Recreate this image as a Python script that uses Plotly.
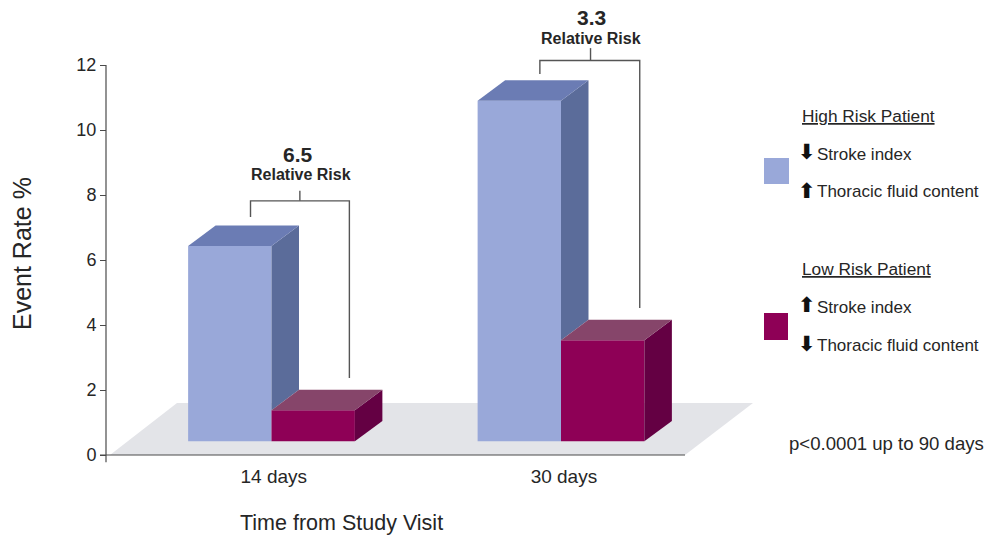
import plotly.graph_objects as go

WIDTH, HEIGHT = 988, 535
FONT = "Liberation Sans"

# Chart values
groups = ["14 days", "30 days"]
group_pos = [0, 1]
group_label_pos = [0.008, 1.01]
high_risk = [6.43, 10.9]
low_risk = [1.38, 3.53]
y_ticks = [0, 2, 4, 6, 8, 10, 12]
relative_risk = ["6.5", "3.3"]

# Bracket geometry, in axis units
bracket_left_x = [-0.0725, 0.927]
bracket_mid_x = [0.098, 1.102]
bracket_right_x = [0.269, 1.272]
bracket_left_y = [7.32, 11.72]
bracket_top_y = [7.82, 12.14]
bracket_stem_y = [8.13, 12.52]
bracket_right_y = [2.37, 4.52]

# Pseudo-3D box proportions
floor_level = 0.42
bar_width = 0.288
depth_x = 0.095
depth_y = 0.63

# Pixel scale of the axes: the plot area fills the page
X0_PX, X_UNIT_PX = 271.5, 289.5
Y0_PX, Y_UNIT_PX = 455.0, 32.5


def data_x(px):
    return (px - X0_PX) / X_UNIT_PX


def paper_x(px):
    return px / WIDTH


def paper_y(py):
    return 1 - py / HEIGHT


C_HIGH_FRONT, C_HIGH_TOP, C_HIGH_SIDE = "#99A8D9", "#6B7CB4", "#5B6C9A"
C_LOW_FRONT, C_LOW_TOP, C_LOW_SIDE = "#8E0056", "#86456A", "#640043"
C_FLOOR = "#E3E4E8"
C_AXIS = "#4A4A4A"
C_TEXT = "#262626"

fig = go.Figure()


def face(xs, ys, color):
    fig.add_trace(go.Scatter(
        x=xs + xs[:1], y=ys + ys[:1], mode="lines", fill="toself",
        fillcolor=color, line=dict(width=0), hoverinfo="skip", showlegend=False,
    ))


# Front faces
fig.add_trace(go.Bar(
    x=[g - bar_width / 2 for g in group_pos], y=[v - floor_level for v in high_risk],
    base=floor_level, width=bar_width, marker=dict(color=C_HIGH_FRONT, line=dict(width=0)),
    name="High Risk Patient", showlegend=False,
))
fig.add_trace(go.Bar(
    x=[g + bar_width / 2 for g in group_pos], y=[v - floor_level for v in low_risk],
    base=floor_level, width=bar_width, marker=dict(color=C_LOW_FRONT, line=dict(width=0)),
    name="Low Risk Patient", showlegend=False,
))

# Side and top faces
for g, hi, lo in zip(group_pos, high_risk, low_risk):
    mid = g
    right = g + bar_width
    left = g - bar_width
    # High-risk side stops where the low-risk box starts
    face([mid, mid + depth_x, mid + depth_x, mid],
         [hi, hi + depth_y, lo + depth_y, lo], C_HIGH_SIDE)
    face([left, mid, mid + depth_x, left + depth_x],
         [hi, hi, hi + depth_y, hi + depth_y], C_HIGH_TOP)
    face([right, right + depth_x, right + depth_x, right],
         [lo, lo + depth_y, floor_level + depth_y, floor_level], C_LOW_SIDE)
    face([mid, right, right + depth_x, mid + depth_x],
         [lo, lo, lo + depth_y, lo + depth_y], C_LOW_TOP)

# Relative-risk brackets
for i in range(len(groups)):
    fig.add_trace(go.Scatter(
        x=[bracket_left_x[i], bracket_left_x[i], bracket_right_x[i], bracket_right_x[i]],
        y=[bracket_left_y[i], bracket_top_y[i], bracket_top_y[i], bracket_right_y[i]],
        mode="lines", line=dict(color="#555555", width=1.4), hoverinfo="skip", showlegend=False,
    ))
    fig.add_trace(go.Scatter(
        x=[bracket_mid_x[i], bracket_mid_x[i]], y=[bracket_top_y[i], bracket_stem_y[i]],
        mode="lines", line=dict(color="#555555", width=1.4), hoverinfo="skip", showlegend=False,
    ))

shapes = [
    # Floor plane under the boxes
    dict(type="path", layer="below", line=dict(width=0), fillcolor=C_FLOOR,
         path=f"M {data_x(110)} 0 L {data_x(177)} 1.6 L {data_x(753)} 1.6 L {data_x(685)} 0 Z"),
    # Axis lines, shorter than the plot area
    dict(type="line", x0=data_x(106), x1=data_x(106), y0=-0.22, y1=12,
         line=dict(color=C_AXIS, width=1.2)),
    dict(type="line", x0=data_x(100), x1=data_x(685), y0=0, y1=0,
         line=dict(color=C_AXIS, width=1.2)),
    # Legend swatches
    dict(type="rect", xref="paper", yref="paper", x0=paper_x(764), x1=paper_x(789),
         y0=paper_y(184), y1=paper_y(158), fillcolor=C_HIGH_FRONT, line=dict(width=0)),
    dict(type="rect", xref="paper", yref="paper", x0=paper_x(764), x1=paper_x(788),
         y0=paper_y(340), y1=paper_y(313), fillcolor=C_LOW_FRONT, line=dict(width=0)),
]


def label(text, px, py, size=17, bold=False, anchor="left", angle=0):
    return dict(
        text=f"<b>{text}</b>" if bold else text, xref="paper", yref="paper",
        x=paper_x(px), y=paper_y(py), xanchor=anchor, yanchor="middle",
        showarrow=False, textangle=angle,
        font=dict(family=FONT, size=size, color=C_TEXT),
    )


UP, DOWN = "\u2B06", "\u2B07"


def arrow(symbol, px, py):
    return dict(
        text=f"<b>{symbol}</b>", xref="paper", yref="paper", x=paper_x(px), y=paper_y(py),
        xanchor="center", yanchor="middle", showarrow=False,
        font=dict(family="DejaVu Sans", size=21, color="#111111"),
    )


annotations = [
    label("Event Rate %", 22, 254, size=25, anchor="center", angle=-90),
    label("Time from Study Visit", 341, 523, size=21.5, anchor="center"),
    label(relative_risk[0], 298, 154, size=21, bold=True, anchor="center"),
    label("Relative Risk", 301, 174, size=16, bold=True, anchor="center"),
    label(relative_risk[1], 591, 17, size=21, bold=True, anchor="center"),
    label("Relative Risk", 591, 39, size=16, bold=True, anchor="center"),
    label("<u>High Risk Patient</u>", 800, 116, size=17.3),
    arrow(DOWN, 807, 152),
    label("Stroke index", 815, 154),
    arrow(UP, 807, 191),
    label("Thoracic fluid content", 815, 192),
    label("<u>Low Risk Patient</u>", 800, 269, size=17.3),
    arrow(UP, 807, 305),
    label("Stroke index", 815, 307),
    arrow(DOWN, 807, 344),
    label("Thoracic fluid content", 815, 345),
    label("p&lt;0.0001 up to 90 days", 787, 443, size=18.6),
]

fig.update_layout(
    width=WIDTH, height=HEIGHT, margin=dict(l=0, r=0, t=0, b=0),
    paper_bgcolor="white", plot_bgcolor="white", barmode="overlay", showlegend=False,
    font=dict(family=FONT, size=18, color=C_TEXT),
    shapes=shapes, annotations=annotations,
    xaxis=dict(
        range=[data_x(0), data_x(WIDTH)], domain=[0, 1], anchor="free",
        position=1 - Y0_PX / HEIGHT, tickmode="array", tickvals=group_label_pos, ticktext=groups,
        ticks="", ticklabelstandoff=8, showline=False, showgrid=False, zeroline=False,
        tickfont=dict(family=FONT, size=19, color=C_TEXT),
    ),
    yaxis=dict(
        range=[(Y0_PX - HEIGHT) / Y_UNIT_PX, Y0_PX / Y_UNIT_PX], domain=[0, 1], anchor="free",
        position=paper_x(106), tickmode="array", tickvals=y_ticks,
        ticks="outside", ticklen=6, tickwidth=1.2, tickcolor=C_AXIS,
        showline=False, showgrid=False, zeroline=False,
        tickfont=dict(family=FONT, size=18, color=C_TEXT),
    ),
)

fig.write_html("out.html")
